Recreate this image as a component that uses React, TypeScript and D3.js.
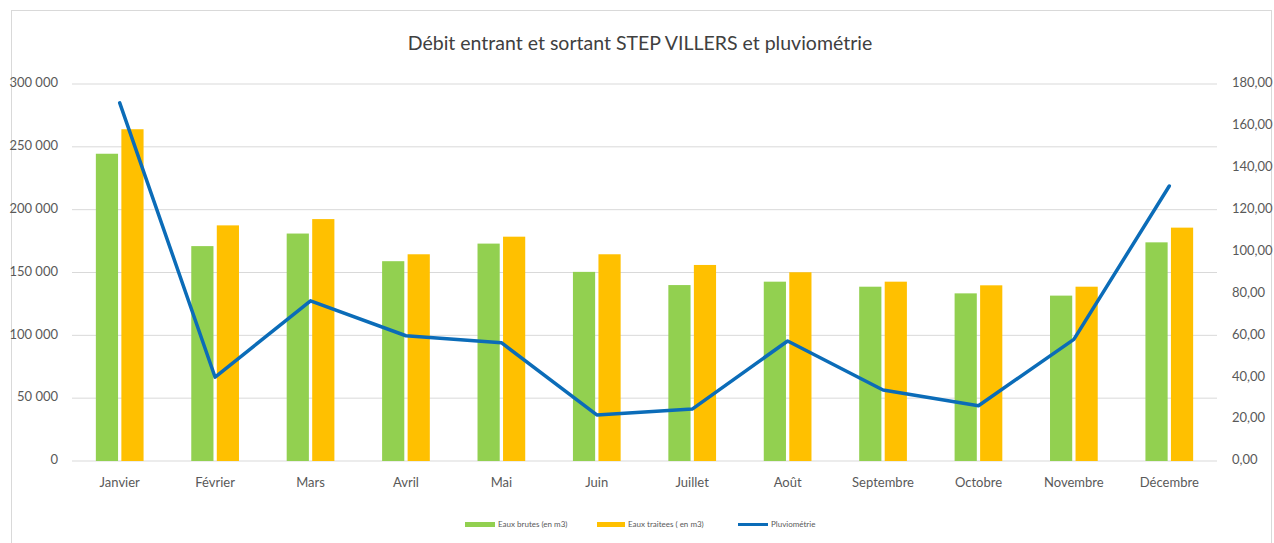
import React from "react";
import * as d3 from "d3";

const months = ["Janvier", "Février", "Mars", "Avril", "Mai", "Juin", "Juillet", "Août", "Septembre", "Octobre", "Novembre", "Décembre"];
const eauxBrutes = [244500, 171000, 181000, 159000, 173000, 150500, 140000, 142700, 138700, 133400, 131600, 174000];
const eauxTraitees = [264000, 187500, 192500, 164500, 178500, 164500, 156000, 150200, 142700, 139800, 138700, 185700];
const pluvio = [171.0, 40.0, 76.5, 59.8, 56.5, 22.0, 24.8, 57.3, 33.9, 26.4, 58.1, 131.3];
const leftTicks = [0, 50000, 100000, 150000, 200000, 250000, 300000];
const rightTicks = [0, 20, 40, 60, 80, 100, 120, 140, 160, 180];
const seriesNames = ["Eaux brutes (en m3)", "Eaux traitees ( en m3)", "Pluviométrie"];
const title = "Débit entrant et sortant STEP VILLERS et pluviométrie";

const W = 1274, H = 543;
const plot = { left: 72, right: 1217, top: 84, bottom: 461 };
const GREEN = "#92D050", YELLOW = "#FFC000", BLUE = "#0B6CB8";
const FONT = "Lato, 'Open Sans', sans-serif";

const fmtLeft = (v: number) => {
  const s = String(v);
  return s.replace(/\B(?=(\d{3})+(?!\d))/g, " ");
};
const fmtRight = (v: number) => v.toFixed(2).replace(".", ",");

export default function App() {
  const x0 = d3.scaleBand<string>().domain(months).range([plot.left, plot.right]).paddingInner(0.5).paddingOuter(0.25);
  const x1 = d3.scaleBand<string>().domain(["b", "t"]).range([0, x0.bandwidth()]).paddingInner(0.13);
  const yL = d3.scaleLinear().domain([0, 300000]).range([plot.bottom, plot.top]);
  const yR = d3.scaleLinear().domain([0, 180]).range([plot.bottom, plot.top]);
  const cx = (m: string) => (x0(m) as number) + x0.bandwidth() / 2;
  const line = d3.line<number>().x((_, i) => cx(months[i])).y((d) => yR(d));

  return (
    <svg width={W} height={H} style={{ position: "absolute", left: 0, top: 0, background: "#fff" }} fontFamily={FONT}>
      <rect x={0} y={0} width={W} height={H} fill="#fff" />
      <rect x={11.5} y={10.5} width={1260} height={560} fill="none" stroke="#d9d9d9" />
      <text x={640} y={45} textAnchor="middle" dominantBaseline="middle" fontSize={19.5} fill="#404040">{title}</text>
      {leftTicks.map((t) => (
        <g key={"l" + t}>
          <line x1={plot.left} x2={plot.right} y1={yL(t)} y2={yL(t)} stroke="#d9d9d9" strokeWidth={1} />
          <text x={58} y={yL(t)} textAnchor="end" dominantBaseline="middle" fontSize={13} fill="#595959">{fmtLeft(t)}</text>
        </g>
      ))}
      {rightTicks.map((t) => (
        <text key={"r" + t} x={1232} y={yR(t)} textAnchor="start" dominantBaseline="middle" fontSize={13} fill="#595959">{fmtRight(t)}</text>
      ))}
      {months.map((m, i) => (
        <g key={m}>
          <rect x={(x0(m) as number) + (x1("b") as number)} y={yL(eauxBrutes[i])} width={x1.bandwidth()} height={plot.bottom - yL(eauxBrutes[i])} fill={GREEN} />
          <rect x={(x0(m) as number) + (x1("t") as number)} y={yL(eauxTraitees[i])} width={x1.bandwidth()} height={plot.bottom - yL(eauxTraitees[i])} fill={YELLOW} />
          <text x={cx(m)} y={484} textAnchor="middle" dominantBaseline="middle" fontSize={13} fill="#595959">{m}</text>
        </g>
      ))}
      <path d={line(pluvio) || ""} fill="none" stroke={BLUE} strokeWidth={3.5} strokeLinejoin="round" strokeLinecap="round" />
      <g fontSize={8} fill="#595959">
        <rect x={465} y={522} width={30} height={5} fill={GREEN} />
        <text x={498} y={525} dominantBaseline="middle">{seriesNames[0]}</text>
        <rect x={597} y={522} width={28} height={5} fill={YELLOW} />
        <text x={628} y={525} dominantBaseline="middle">{seriesNames[1]}</text>
        <line x1={738} x2={768} y1={524.5} y2={524.5} stroke={BLUE} strokeWidth={3} />
        <text x={771} y={525} dominantBaseline="middle">{seriesNames[2]}</text>
      </g>
    </svg>
  );
}
